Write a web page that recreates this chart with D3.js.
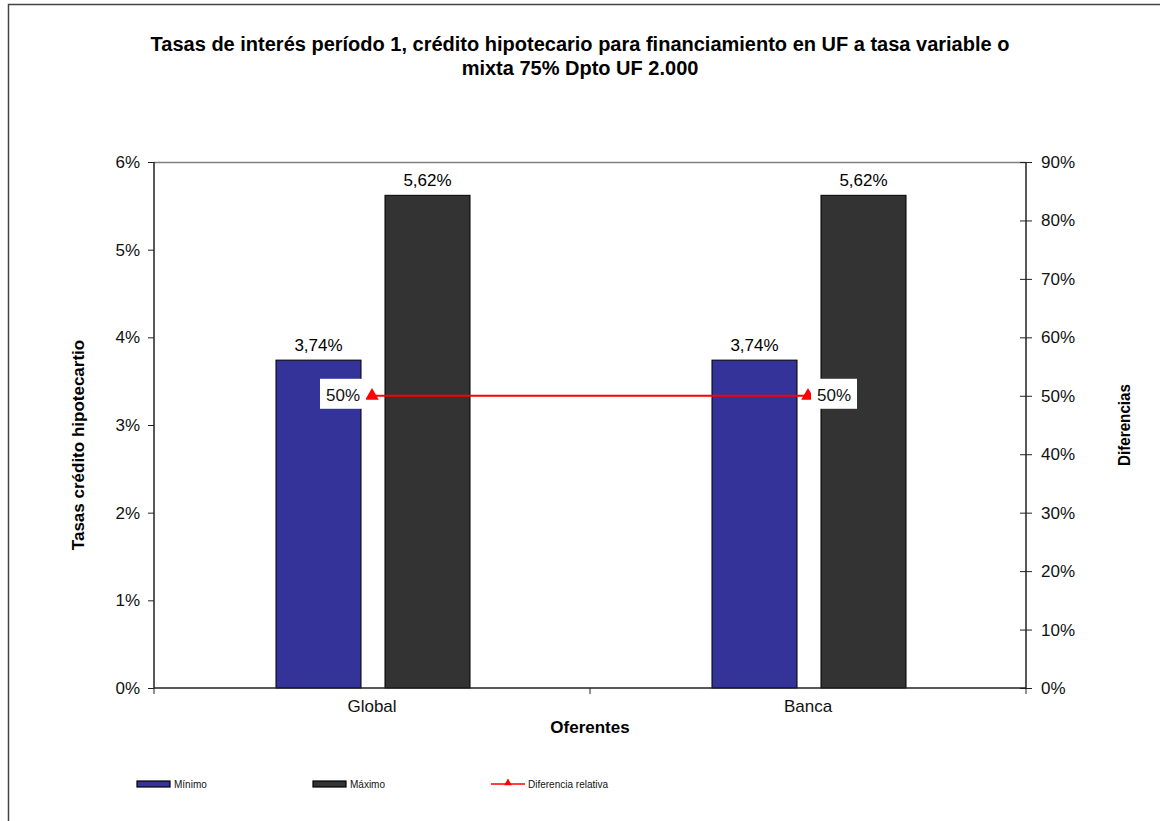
<!DOCTYPE html>
<html><head><meta charset="utf-8">
<script src="https://cdn.jsdelivr.net/npm/d3@7"></script>
<style>body{margin:0;background:#fff}svg{display:block;font-family:"Liberation Sans",Arial,sans-serif}</style>
</head><body><svg id="c" width="1160" height="821"></svg>
<script>
const categories = ["Global", "Banca"];
const minimo = [3.74, 3.74];
const maximo = [5.62, 5.62];
const diferencia = [50, 50];
const leftTicks = [0,1,2,3,4,5,6];
const rightTicks = [0,10,20,30,40,50,60,70,80,90];
const titleLines = ["Tasas de interés período 1, crédito hipotecario para financiamiento en UF a tasa variable o","mixta 75% Dpto UF 2.000"];

const FS = 17;
const svg = d3.select("#c");
const L=154,R=1026,T=162,B=688;
// outer frame
svg.append("path").attr("d","M8.5,821 V4.5 H1160").attr("fill","none").attr("stroke","#444").attr("stroke-width",1.5);

const x = d3.scaleBand().domain(categories).range([L,R]);
const y = d3.scaleLinear().domain([0,6]).range([B,T]);
const y2 = d3.scaleLinear().domain([0,90]).range([B,T]);
const bw = x.bandwidth();
const barW = bw*0.195, gap = bw*0.055;
const cx = c => x(c)+bw/2;

// plot top border
svg.append("line").attr("x1",L).attr("x2",R).attr("y1",T+0.5).attr("y2",T+0.5).attr("stroke","#808080").attr("stroke-width",1.5);

// bars
const series=[{name:"Mínimo",vals:minimo,fill:"#333399",off:-gap/2-barW},{name:"Máximo",vals:maximo,fill:"#333333",off:gap/2}];
series.forEach(s=>{
  svg.append("g").selectAll("rect").data(categories).join("rect")
    .attr("x",(c)=>cx(c)+s.off+1).attr("width",barW)
    .attr("y",(c,i)=>y(s.vals[i])).attr("height",(c,i)=>B-y(s.vals[i]))
    .attr("fill",s.fill).attr("stroke","#000").attr("stroke-width",1);
  svg.append("g").selectAll("text").data(categories).join("text")
    .attr("x",c=>cx(c)+s.off+1+barW/2).attr("y",(c,i)=>y(s.vals[i])-9)
    .attr("text-anchor","middle").attr("font-size",FS).attr("fill","#000")
    .text((c,i)=>s.vals[i].toFixed(2).replace(".",",")+"%");
});

// axes
const ax = svg.append("g").attr("transform",`translate(${L},0)`).call(d3.axisLeft(y).tickValues(leftTicks).tickSize(6).tickPadding(8).tickFormat(d=>d+"%"));
const ax2 = svg.append("g").attr("transform",`translate(${R},0)`).call(d3.axisRight(y2).tickValues(rightTicks).tickSize(6).tickPadding(10).tickFormat(d=>d+"%"));
[ax,ax2].forEach(a=>{a.select(".domain").attr("stroke","#222").attr("stroke-width",1.5).attr("d",`M0,${T}V${B}`);
 a.selectAll(".tick line").attr("stroke","#222");
 a.selectAll("text").attr("font-size",FS).attr("fill","#111").attr("font-family","Liberation Sans, Arial, sans-serif");});
ax.selectAll(".tick line").attr("x1",-6).attr("x2",0);
ax2.selectAll(".tick line").attr("x1",-6).attr("x2",6);
ax2.selectAll(".tick text").attr("x",15);

const axb = svg.append("g").attr("transform",`translate(0,${B})`).call(d3.axisBottom(x).tickSize(0).tickPadding(12));
axb.select(".domain").attr("stroke","#222").attr("stroke-width",1.5).attr("d",`M${L},0H${R}`);
axb.selectAll("text").attr("font-size",FS).attr("fill","#111").attr("font-family","Liberation Sans, Arial, sans-serif");
// category separator ticks
svg.append("g").selectAll("line").data([L, ...categories.map(c=>x(c)+bw)]).join("line")
  .attr("x1",d=>d).attr("x2",d=>d).attr("y1",B).attr("y2",B+6).attr("stroke","#222");

// line
const line = d3.line().x((d,i)=>cx(categories[i])).y(d=>y2(d));
svg.append("path").datum(diferencia).attr("d",line).attr("fill","none").attr("stroke","#ff0000").attr("stroke-width",2);
svg.append("g").selectAll("path").data(diferencia).join("path")
  .attr("transform",(d,i)=>`translate(${cx(categories[i])},${y2(d)})`)
  .attr("d",d3.symbol(d3.symbolTriangle,80)).attr("fill","#ff0000");
// labels
diferencia.forEach((d,i)=>{
  const px=cx(categories[i]), py=y2(d);
  const left = i===0;
  const bx = left? px-52 : px+3;
  svg.append("rect").attr("x",bx).attr("y",py-17).attr("width",46).attr("height",30).attr("fill","#fff");
  svg.append("text").attr("x",bx+23).attr("y",py+5).attr("text-anchor","middle").attr("font-size",FS).attr("fill","#111").text(d+"%");
});

// titles
svg.append("text").attr("x",580).attr("y",51).attr("text-anchor","middle").attr("font-weight","bold").attr("font-size",20)
  .selectAll("tspan").data(titleLines).join("tspan").attr("x",580).attr("dy",(d,i)=>i?24:0).text(d=>d);
svg.append("text").attr("transform","translate(84,445) rotate(-90)").attr("text-anchor","middle").attr("font-weight","bold").attr("font-size",FS).text("Tasas crédito hipotecartio");
svg.append("text").attr("transform","translate(1130,425) rotate(-90)").attr("text-anchor","middle").attr("font-weight","bold").attr("font-size",FS).attr("textLength",82).attr("lengthAdjust","spacingAndGlyphs").text("Diferencias");
svg.append("text").attr("x",(L+R)/2).attr("y",733).attr("text-anchor","middle").attr("font-weight","bold").attr("font-size",FS).text("Oferentes");

// legend
const lg = svg.append("g").attr("font-size",10).attr("fill","#111");
const legendItems=[{name:"Mínimo",fill:"#333399",x:137,type:"bar"},{name:"Máximo",fill:"#333333",x:313,type:"bar"},{name:"Diferencia relativa",x:491,type:"line"}];
legendItems.forEach(it=>{
  if(it.type==="bar"){
    lg.append("rect").attr("x",it.x).attr("y",781).attr("width",33).attr("height",6).attr("fill",it.fill).attr("stroke","#000").attr("stroke-width",1.2);
  } else {
    lg.append("line").attr("x1",it.x).attr("x2",it.x+34).attr("y1",784).attr("y2",784).attr("stroke","#ff0000").attr("stroke-width",1.5);
    lg.append("path").attr("transform",`translate(${it.x+17},783)`).attr("d",d3.symbol(d3.symbolTriangle,25)).attr("fill","#ff0000");
  }
  lg.append("text").attr("x",it.x+37).attr("y",788).text(it.name);
});
</script></body></html>
